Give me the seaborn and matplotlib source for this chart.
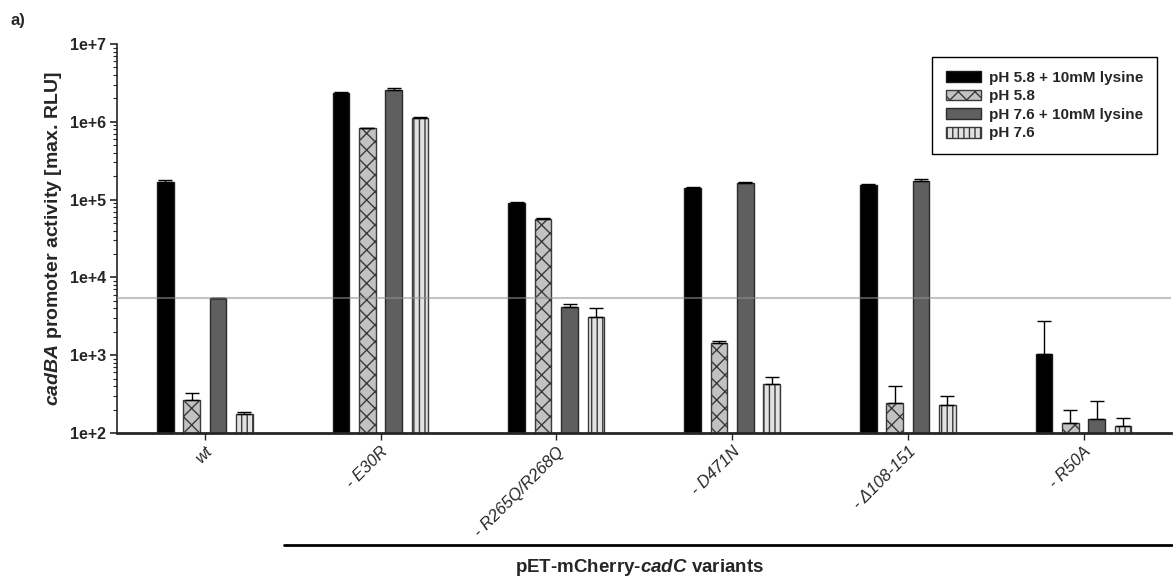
import numpy as np
import pandas as pd
import matplotlib
matplotlib.use("Agg")
import matplotlib.pyplot as plt
from matplotlib.patches import Patch
from matplotlib.lines import Line2D
import seaborn as sns

# --- data -------------------------------------------------------------
variants = ["wt", "- E30R", "- R265Q/R268Q", "- D471N", "- \u0394108-151", "- R50A"]
conditions = ["pH 5.8 + 10mM lysine", "pH 5.8", "pH 7.6 + 10mM lysine", "pH 7.6"]

ph58_lys = [1.70e5, 2.32e6, 8.96e4, 1.40e5, 1.54e5, 1.05e3]
ph58 = [265, 8.25e5, 5.57e4, 1.45e3, 245, 133]
ph76_lys = [5.38e3, 2.54e6, 4.12e3, 1.65e5, 1.75e5, 153]
ph76 = [174, 1.13e6, 3.07e3, 422, 229, 122]

ph58_lys_err = [6e3, 1.0e5, 4.5e3, 4e3, 3e3, 1.7e3]
ph58_err = [60, 1.5e4, 2.5e3, 70, 157, 65]
ph76_lys_err = [100, 1.5e5, 480, 3e3, 7e3, 107]
ph76_err = [11, 3e4, 980, 103, 72, 35]

ytick_values = [1e2, 1e3, 1e4, 1e5, 1e6, 1e7]
ytick_labels = ["1e+2", "1e+3", "1e+4", "1e+5", "1e+6", "1e+7"]

series = [ph58_lys, ph58, ph76_lys, ph76]
errors = [ph58_lys_err, ph58_err, ph76_lys_err, ph76_err]

df = pd.DataFrame({
    "variant": np.repeat([variants], 4, axis=0).ravel(),
    "condition": np.repeat(conditions, len(variants)),
    "value": np.concatenate(series),
})

# --- styling ----------------------------------------------------------
sns.set_style("ticks")
plt.rcParams["font.family"] = ["Liberation Sans", "DejaVu Sans"]
plt.rcParams["mathtext.fontset"] = "custom"
plt.rcParams["mathtext.it"] = "Liberation Sans:italic:bold"
plt.rcParams["mathtext.rm"] = "Liberation Sans:bold"
plt.rcParams["mathtext.bf"] = "Liberation Sans:bold"
plt.rcParams["hatch.linewidth"] = 1.0
plt.rcParams["hatch.color"] = "black"

faces = ["#000000", "#c2c2c2", "#5f5f5f", "#e2e2e2"]
edges = ["#1a1a1a", "#3a3a3a", "#2a2a2a", "#3a3a3a"]
hatches = ["", "xx", "", "|||"]

fig = plt.figure(figsize=(11.73, 5.81), dpi=100)
ax = fig.add_axes([0.0997, 0.2547, 0.899, 0.6696])

sns.barplot(
    data=df, x="variant", y="value", hue="condition",
    order=variants, hue_order=conditions, palette=faces,
    width=0.6, gap=0.37, saturation=1, errorbar=None,
    legend=False, linewidth=1, ax=ax,
)
ax.set_yscale("log")

# hatching, edges and one-sided error bars per condition
for cont, fc, ec, h, vals, errs in zip(ax.containers, faces, edges, hatches, series, errors):
    xs = []
    for bar in cont:
        bar.set_facecolor(fc)
        bar.set_edgecolor(ec)
        bar.set_hatch(h)
        bar.set_linewidth(1)
        xs.append(bar.get_x() + bar.get_width() / 2)
    ax.errorbar(xs, vals, yerr=[np.zeros(len(errs)), errs], fmt="none",
                ecolor="black", elinewidth=1, capsize=5, capthick=1, zorder=3)

# reference level: wild type at pH 7.6 + lysine
ax.axhline(ph76_lys[0], color="#909090", alpha=0.55, lw=1.5, zorder=4)

ax.set_ylim(1e2, 1e7)
ax.set_xlim(-0.5, 5.5)
ax.set_yticks(ytick_values)
ax.set_yticklabels(ytick_labels, fontweight="bold", fontsize=11.5)
ax.set_xticks(range(len(variants)))
ax.set_xticklabels(variants, rotation=45, ha="right", va="top",
                   rotation_mode="anchor", fontstyle="italic", fontsize=12)
ax.tick_params(axis="y", which="major", length=5, width=1.2, direction="out", pad=3)
ax.tick_params(axis="y", which="minor", length=3, width=0.8, direction="out")
ax.tick_params(axis="x", length=5, width=1, direction="out", pad=3)

ax.set_xlabel("")
ax.set_ylabel(r"$\mathit{cadBA}$ promoter activity [max. RLU]",
              fontweight="bold", fontsize=14, labelpad=4)

for side in ["top", "right"]:
    ax.spines[side].set_visible(False)
ax.spines["left"].set_linewidth(1.2)
ax.spines["bottom"].set_linewidth(2)

handles = [Patch(facecolor=fc, edgecolor=ec, hatch=h, linewidth=1, label=lab)
           for fc, ec, h, lab in zip(faces, edges, hatches, conditions)]
leg = ax.legend(handles=handles, loc="upper right",
                bbox_to_anchor=(1157 / 1173, 1 - 57 / 581),
                bbox_transform=fig.transFigure, frameon=True, fancybox=False,
                edgecolor="black", framealpha=1,
                prop={"weight": "bold", "size": 11},
                handlelength=2.3, handleheight=0.7, handletextpad=0.5,
                labelspacing=0.3, borderpad=0.9, borderaxespad=0)
leg.get_frame().set_linewidth(1)

# group bracket for the plasmid variants
fig.add_artist(Line2D([284 / 1173, 1172 / 1173], [1 - 545 / 581] * 2,
                      color="black", lw=2, transform=fig.transFigure))
fig.text(640 / 1173, 1 - 567 / 581, r"pET-mCherry-$\mathit{cadC}$ variants",
         ha="center", va="center", fontweight="bold", fontsize=13.5)
fig.text(0.009, 1 - 20 / 581, "a)", ha="left", va="center",
         fontweight="bold", fontsize=12)

fig.savefig("out.png", dpi=100)
